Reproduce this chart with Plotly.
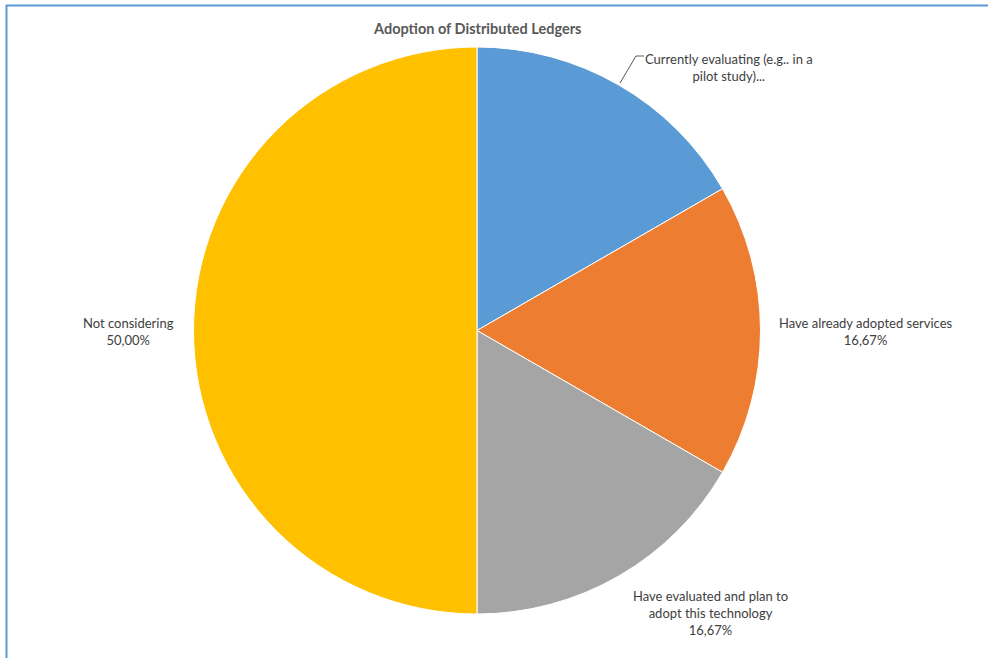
import plotly.graph_objects as go

W, H = 988, 658

categories = [
    "Currently evaluating (e.g.. in a pilot study)...",
    "Have already adopted services",
    "Have evaluated and plan to adopt this technology",
    "Not considering",
]
label_lines = [
    ["Currently evaluating (e.g.. in a", "pilot study)..."],
    ["Have already adopted services"],
    ["Have evaluated and plan to", "adopt this technology"],
    ["Not considering"],
]
values = [1, 1, 1, 3]
show_pct = [False, True, True, True]
colors = ["#5B9BD5", "#ED7D31", "#A5A5A5", "#FFC000"]
title = "Adoption of Distributed Ledgers"

total = sum(values)
pcts = [f"{v / total * 100:.2f}".replace(".", ",") + "%" for v in values]

def px(x):
    return x / W

def py(y):
    return 1 - y / H

fig = go.Figure(go.Pie(
    labels=categories,
    values=values,
    sort=False,
    direction="clockwise",
    rotation=0,
    marker=dict(colors=colors, line=dict(color="white", width=1)),
    textinfo="none",
    hoverinfo="label+percent",
    domain=dict(x=[px(193.5), px(760.5)], y=[py(614), py(47)]),
    showlegend=False,
))

# label positions (pixel centres of text blocks)
label_pos = [(729, 68), (866, 331), (710, 613), (128, 331)]
annotations = []
for i, (lines, pos) in enumerate(zip(label_lines, label_pos)):
    txt = list(lines)
    if show_pct[i]:
        txt.append(pcts[i])
    annotations.append(dict(
        text="<br>".join(txt), x=px(pos[0]), y=py(pos[1]),
        xref="paper", yref="paper", showarrow=False,
        xanchor="center", yanchor="middle", align="center",
        font=dict(family="Lato, sans-serif", size=13, color="#404040"),
    ))

annotations.append(dict(
    text="<b>" + title + "</b>", x=px(477), y=py(29), xref="paper", yref="paper",
    showarrow=False, xanchor="center", yanchor="middle",
    font=dict(family="Lato, sans-serif", size=14.5, color="#595959"),
))

shapes = [
    # leader line for the first slice
    dict(type="path", xref="paper", yref="paper",
         path=f"M {px(620)} {py(83)} L {px(636)} {py(56)} L {px(644)} {py(56)}",
         line=dict(color="#595959", width=1)),
    # outer chart-area border
    dict(type="rect", xref="paper", yref="paper",
         x0=px(6.5), y0=py(H + 5), x1=px(W + 5), y1=py(5.5),
         line=dict(color="#5B9BD5", width=2)),
]

fig.update_layout(
    width=W, height=H,
    margin=dict(l=0, r=0, t=0, b=0),
    paper_bgcolor="white", plot_bgcolor="white",
    annotations=annotations, shapes=shapes,
)

fig.write_html("out.html")
